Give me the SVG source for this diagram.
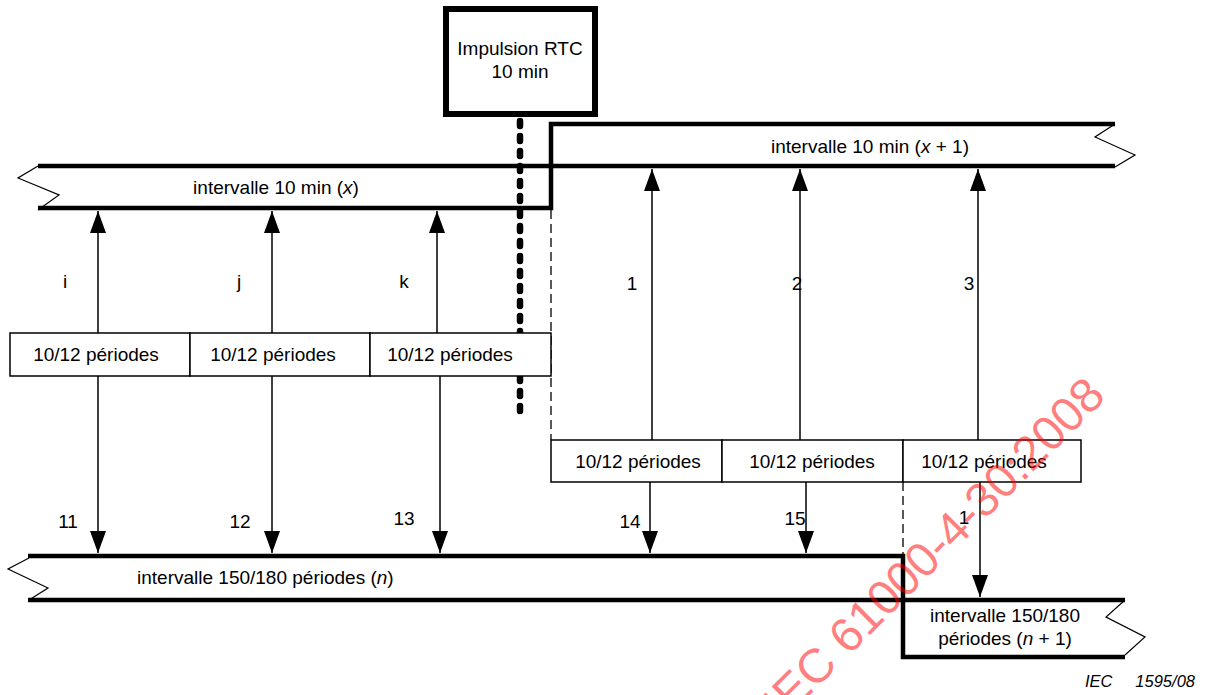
<svg xmlns="http://www.w3.org/2000/svg" width="1206" height="695" viewBox="0 0 1206 695">
<style>
text{font-family:"Liberation Sans",Arial,sans-serif;font-size:19px;fill:#000}
.c{text-anchor:middle}
.band{fill:none;stroke:#000;stroke-width:4.5;stroke-linejoin:miter}
.zig{fill:none;stroke:#000;stroke-width:1.2}
.box{fill:#fff;stroke:#000;stroke-width:1.5}
.arr{fill:none;stroke:#000;stroke-width:1.5}
.dash{fill:none;stroke:#000;stroke-width:1.3;stroke-dasharray:9 5}
.foot{font-size:16.5px;font-style:italic}
.wm{font-size:48px;fill:#ff0000;fill-opacity:0.5}
</style>
<defs>
<marker id="ah" viewBox="0 0 22 16" refX="22" refY="8" markerWidth="22" markerHeight="16" markerUnits="userSpaceOnUse" orient="auto">
<path d="M0,0 L22,8 L0,16 Z" fill="#000"/>
</marker>
</defs>
<rect width="1206" height="695" fill="#fff"/>

<g id="connectors">
<line class="arr" x1="98" y1="333" x2="98" y2="211" marker-end="url(#ah)"/>
<line class="arr" x1="272" y1="333" x2="272" y2="211" marker-end="url(#ah)"/>
<line class="arr" x1="437" y1="333" x2="437" y2="211" marker-end="url(#ah)"/>
<line class="arr" x1="98" y1="376" x2="98" y2="553" marker-end="url(#ah)"/>
<line class="arr" x1="272" y1="376" x2="272" y2="553" marker-end="url(#ah)"/>
<line class="arr" x1="440" y1="376" x2="440" y2="553" marker-end="url(#ah)"/>
<line class="arr" x1="652" y1="440" x2="652" y2="169" marker-end="url(#ah)"/>
<line class="arr" x1="800" y1="440" x2="800" y2="169" marker-end="url(#ah)"/>
<line class="arr" x1="978" y1="440" x2="978" y2="169" marker-end="url(#ah)"/>
<line class="arr" x1="650" y1="482" x2="650" y2="553" marker-end="url(#ah)"/>
<line class="arr" x1="806" y1="482" x2="806" y2="553" marker-end="url(#ah)"/>
<line class="arr" x1="980" y1="482" x2="980" y2="597" marker-end="url(#ah)"/>
<line class="dash" x1="551" y1="210" x2="551" y2="440"/>
<line class="dash" x1="903" y1="440" x2="903" y2="556"/>
<line x1="520" y1="121" x2="520" y2="413" stroke="#000" stroke-width="6.5" stroke-linecap="round" stroke-dasharray="5 10"/>
</g>

<g id="band-x">
<path class="band" d="M38,166 H1115"/>
<path class="band" d="M38,208 H551 V124 H1115"/>
<path class="zig" d="M38,166 L18,178 L59,195 L38,210"/>
<text class="c" x="276" y="194">intervalle 10 min (<tspan font-style="italic">x</tspan>)</text>
</g>

<g id="band-x1">
<path class="zig" d="M1115,124 L1095,137 L1135,155 L1115,167"/>
<text class="c" x="870" y="153">intervalle 10 min (<tspan font-style="italic">x</tspan> + 1)</text>
</g>

<g id="band-n">
<path class="band" d="M28,556 H903 V657 H1125"/>
<path class="band" d="M28,600 H1125"/>
<path class="zig" d="M29,558 L8,569 L48,588 L29,600"/>
<text x="137" y="584">intervalle 150/180 périodes (<tspan font-style="italic">n</tspan>)</text>
</g>

<g id="band-n1">
<path class="zig" d="M1125,600 L1106,617 L1145,637 L1125,655"/>
<text class="c" x="1005" y="622">intervalle 150/180</text>
<text class="c" x="1005" y="645">périodes (<tspan font-style="italic">n</tspan> + 1)</text>
</g>

<g id="rtc">
<rect x="446" y="9" width="149" height="105" fill="#fff" stroke="#000" stroke-width="6"/>
<text class="c" x="520" y="55">Impulsion RTC</text>
<text class="c" x="520" y="78">10 min</text>
</g>

<g id="box-l1"><rect class="box" x="10" y="333" width="180" height="43"/><text class="c" x="96" y="361">10/12 périodes</text></g>
<g id="box-l2"><rect class="box" x="190" y="333" width="180" height="43"/><text class="c" x="273" y="361">10/12 périodes</text></g>
<g id="box-l3"><rect class="box" x="370" y="333" width="181" height="43"/><text class="c" x="450" y="361">10/12 périodes</text></g>
<g id="box-r1"><rect class="box" x="551" y="440" width="171" height="42"/><text class="c" x="638" y="468">10/12 périodes</text></g>
<g id="box-r2"><rect class="box" x="722" y="440" width="181" height="42"/><text class="c" x="812" y="468">10/12 périodes</text></g>
<g id="box-r3"><rect class="box" x="903" y="440" width="178" height="42"/><text class="c" x="984" y="468">10/12 périodes</text></g>

<g id="labels">
<text class="c" x="65" y="288">i</text>
<text class="c" x="239" y="288">j</text>
<text class="c" x="404" y="288">k</text>
<text class="c" x="632" y="290">1</text>
<text class="c" x="797" y="290">2</text>
<text class="c" x="969" y="290">3</text>
<text class="c" x="68" y="528">11</text>
<text class="c" x="240" y="528">12</text>
<text class="c" x="404" y="525">13</text>
<text class="c" x="630" y="528">14</text>
<text class="c" x="795" y="525">15</text>
<text class="c" x="964" y="524">1</text>
</g>

<g id="footer">
<text class="foot" x="1085" y="687">IEC</text>
<text class="foot" x="1195" y="687" text-anchor="end">1595/08</text>
</g>

<g id="watermark">
<text class="c wm" x="945" y="560" transform="rotate(-45 945 560)">IEC 61000-4-30:2008</text>
</g>
</svg>
